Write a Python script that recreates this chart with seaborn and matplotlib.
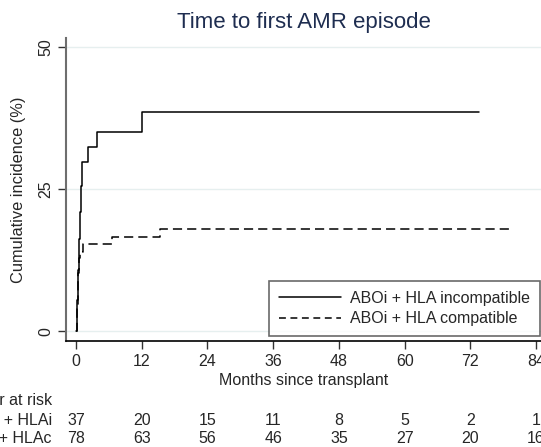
import pandas as pd
import numpy as np
import matplotlib
matplotlib.use('Agg')
import matplotlib.pyplot as plt
from matplotlib.lines import Line2D
import seaborn as sns

# Cumulative incidence (%)
time_hlai = [0, 0.1, 0.2, 0.3, 0.4, 0.5, 0.7, 0.9, 1.1, 2.1, 3.8, 12.1, 73.5]
cum_hlai = [0, 2.7, 5.4, 8.1, 10.8, 16.2, 21.0, 25.5, 29.7, 32.4, 35.1, 38.6, 38.6]

time_hlac = [0, 0.15, 0.3, 0.45, 0.6, 0.8, 1.2, 6.6, 15.3, 79.8]
cum_hlac = [0, 3.8, 7.7, 10.3, 12.8, 14.0, 15.4, 16.6, 18.0, 18.0]

group_labels = ['ABOi + HLA incompatible', 'ABOi + HLA compatible']

# Number at risk table
risk_times = [0, 12, 24, 36, 48, 60, 72, 84]
risk_hlai = [37, 20, 15, 11, 8, 5, 2, 1]
risk_hlac = [78, 63, 56, 46, 35, 27, 20, 16]
risk_rows = ['ABOi + HLAi', 'ABOi + HLAc']

df = pd.concat([
    pd.DataFrame({'time': time_hlai, 'cum': cum_hlai, 'group': group_labels[0]}),
    pd.DataFrame({'time': time_hlac, 'cum': cum_hlac, 'group': group_labels[1]}),
])

sns.set_style('white')
plt.rcParams['font.family'] = ['Liberation Sans', 'DejaVu Sans']
fs = 11.5

fig = plt.figure(figsize=(5.41, 4.47), dpi=100)
ax = fig.add_axes([0.122, 0.237, 0.878, 0.678])

sns.lineplot(data=df, x='time', y='cum', style='group', color='black',
             dashes={group_labels[0]: '', group_labels[1]: (6, 3.3)},
             estimator=None, sort=False, drawstyle='steps-post',
             linewidth=1.1, legend=False, ax=ax)

ax.set_xlim(-1.83, 84.9)
ax.set_ylim(-1.76, 51.6)
ax.set_xticks(risk_times)
ax.set_yticks([0, 25, 50])
ax.set_yticklabels(['0', '25', '50'], rotation=90, va='center')
ax.tick_params(axis='both', labelsize=fs, length=6, width=1, direction='out',
               color='#333333', bottom=True, left=True, pad=3)
ax.grid(axis='y', color='#e6efef', linewidth=1)
ax.set_axisbelow(True)
for side in ['top', 'right']:
    ax.spines[side].set_visible(False)
ax.spines['left'].set_color('#6e6e6e')
ax.spines['left'].set_linewidth(1.5)
ax.spines['bottom'].set_color('black')
ax.spines['bottom'].set_linewidth(1.2)

ax.set_xlabel('Months since transplant', fontsize=fs, labelpad=3)
ax.set_ylabel('Cumulative incidence (%)', fontsize=11.8, labelpad=9)
ax.set_title('Time to first AMR episode', fontsize=16, color='#1e2d50', pad=7)

# Legend
handles = [Line2D([], [], color='black', lw=1.1),
           Line2D([], [], color='black', lw=1.1, dashes=(4.5, 3))]
leg = ax.legend(handles, group_labels, loc='lower right', bbox_to_anchor=(0.998, 0.017),
                fontsize=fs, frameon=True, fancybox=False, handlelength=3.9,
                handletextpad=0.6, borderpad=0.6, labelspacing=0.35,
                borderaxespad=0)
leg.get_frame().set_edgecolor('#444444')
leg.get_frame().set_linewidth(1.2)

# Number at risk table
ax.text(-4.4, -12.3, 'Number at risk', ha='right', va='center', fontsize=fs,
        clip_on=False)
for row, counts, yv in [(risk_rows[0], risk_hlai, -15.7), (risk_rows[1], risk_hlac, -18.9)]:
    ax.text(-4.4, yv, row, ha='right', va='center', fontsize=fs, clip_on=False)
    for t, n in zip(risk_times, counts):
        ax.text(t, yv, str(n), ha='center', va='center', fontsize=fs, clip_on=False)

fig.savefig('out.png', dpi=100)
